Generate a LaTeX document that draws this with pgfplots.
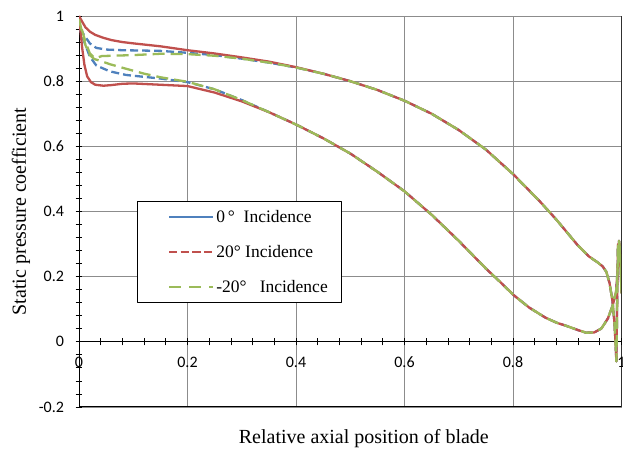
\documentclass[border=0pt]{standalone}
\usepackage{fontspec}
\setmainfont{Liberation Serif}
\newfontfamily\tickfont{Carlito}
\usepackage{pgfplots}
\pgfplotsset{compat=1.18}
\definecolor{cblue}{HTML}{4F81BD}
\definecolor{cred}{HTML}{C0504D}
\definecolor{cgreen}{HTML}{9BBB59}
\begin{document}
\begin{tikzpicture}
\begin{axis}[
  at={(79bp,59bp)}, anchor=south west,
  scale only axis, width=542.5bp, height=391bp,
  xmin=0, xmax=1, ymin=-0.2, ymax=1,
  axis x line=middle, axis y line=left,
  axis line style={-, black, line width=1bp},
  hide obscured x ticks=false, hide obscured y ticks=false,
  xtick={0,0.2,0.4,0.6,0.8,1}, ytick={-0.2,0,0.2,0.4,0.6,0.8,1},
  minor tick num=4,
  tick align=center, major tick length=7bp, minor tick length=7bp,
  tick style={black, line width=0.8bp},
  grid=major, major grid style={black!45, line width=0.8bp},
  /pgf/number format/assume math mode=true,
  ticklabel style={font=\tickfont\fontsize{16bp}{19bp}\selectfont},
  xticklabel style={anchor=north, yshift=-8bp},
  yticklabel style={anchor=east, xshift=-8bp},
  xlabel={Relative axial position of blade},
  ylabel={Static pressure coefficient},
  label style={font=\fontsize{20bp}{24bp}\selectfont},
  xlabel style={at={(axis description cs:0.525,-0.0945)}, anchor=base},
  ylabel style={at={(axis description cs:-0.1069,0.5)}, anchor=center},
  legend image code/.code={\path (-18bp,0bp); \draw[#1] (0bp,0bp) -- (44bp,0bp);},
  legend style={at={(0.1075,0.527)}, anchor=north west, draw=black,
    line width=1bp, inner xsep=12bp, inner ysep=6.5bp, row sep=17.5bp,
    font=\fontsize{17.5bp}{21bp}\selectfont, cells={anchor=west}},
  line join=round,
]
% 0 deg incidence: suction side from LE to TE, then pressure side back to LE
\addplot[forget plot, cblue, line width=2.3bp, dash pattern=on 8bp off 4bp] coordinates {
 (0,0.97) (0.005,0.94) (0.011,0.915) (0.02,0.875) (0.032,0.848) (0.057,0.830)
 (0.087,0.819) (0.15,0.808) (0.20,0.797) (0.25,0.775) (0.30,0.742)
 (0.35,0.705) (0.40,0.667) (0.45,0.625) (0.50,0.578) (0.55,0.522) (0.60,0.462)
 (0.65,0.390) (0.70,0.310) (0.75,0.225) (0.78,0.178) (0.80,0.145) (0.83,0.105)
 (0.86,0.074) (0.88,0.059) (0.90,0.048) (0.92,0.036) (0.935,0.028) (0.950,0.029)
 (0.963,0.041) (0.975,0.072) (0.984,0.113) (0.990,0.154) (0.993,0.22)
 (0.9955,0.31) (0.998,0.27) (1.0,0.15)
 (0.998,0.25) (0.996,0.30) (0.9935,0.30) (0.9925,0.20) (0.9915,0.05)
 (0.9905,-0.06) (0.9895,-0.02) (0.987,0.06) (0.983,0.13) (0.978,0.18)
 (0.972,0.215) (0.965,0.232) (0.955,0.245) (0.94,0.262) (0.92,0.295)
 (0.90,0.335) (0.88,0.375) (0.85,0.430) (0.80,0.515) (0.75,0.590) (0.70,0.650)
 (0.65,0.700) (0.60,0.740) (0.55,0.773) (0.50,0.800) (0.45,0.823) (0.40,0.842)
 (0.35,0.857) (0.30,0.869) (0.25,0.880) (0.20,0.887) (0.15,0.893) (0.08,0.895)
 (0.05,0.897) (0.032,0.902) (0.02,0.916) (0.008,0.945) (0,0.97)
};
% +20 deg incidence
\addplot[forget plot, cred, line width=2.3bp] coordinates {
 (0,1.0) (0.003,0.95) (0.006,0.90) (0.010,0.85) (0.015,0.815) (0.022,0.797)
 (0.03,0.789) (0.045,0.786) (0.06,0.788) (0.08,0.792) (0.10,0.793) (0.15,0.789)
 (0.20,0.785) (0.25,0.765) (0.30,0.738)
 (0.35,0.705) (0.40,0.667) (0.45,0.625) (0.50,0.578) (0.55,0.522) (0.60,0.462)
 (0.65,0.390) (0.70,0.310) (0.75,0.225) (0.78,0.178) (0.80,0.145) (0.83,0.105)
 (0.86,0.074) (0.88,0.059) (0.90,0.048) (0.92,0.036) (0.935,0.028) (0.950,0.029)
 (0.963,0.041) (0.975,0.072) (0.984,0.113) (0.990,0.154) (0.993,0.22)
 (0.9955,0.31) (0.998,0.27) (1.0,0.15)
 (0.998,0.25) (0.996,0.30) (0.9935,0.30) (0.9925,0.20) (0.9915,0.05)
 (0.9905,-0.06) (0.9895,-0.02) (0.987,0.06) (0.983,0.13) (0.978,0.18)
 (0.972,0.215) (0.965,0.232) (0.955,0.245) (0.94,0.262) (0.92,0.295)
 (0.90,0.335) (0.88,0.375) (0.85,0.430) (0.80,0.515) (0.75,0.590) (0.70,0.650)
 (0.65,0.700) (0.60,0.740) (0.55,0.773) (0.50,0.800) (0.45,0.823) (0.40,0.843)
 (0.35,0.860) (0.30,0.873) (0.25,0.885) (0.20,0.895) (0.15,0.907) (0.10,0.916)
 (0.08,0.920) (0.06,0.926) (0.045,0.933) (0.03,0.942) (0.02,0.952)
 (0.012,0.965) (0.005,0.985) (0,1.0)
};
% -20 deg incidence
\addplot[forget plot, cgreen, line width=2.3bp, dash pattern=on 12bp off 6bp] coordinates {
 (0,0.99) (0.005,0.955) (0.012,0.91) (0.02,0.88) (0.028,0.868) (0.04,0.862)
 (0.057,0.852) (0.087,0.838) (0.12,0.823) (0.15,0.812) (0.20,0.798)
 (0.25,0.775) (0.30,0.742)
 (0.35,0.705) (0.40,0.667) (0.45,0.625) (0.50,0.578) (0.55,0.522) (0.60,0.462)
 (0.65,0.390) (0.70,0.310) (0.75,0.225) (0.78,0.178) (0.80,0.145) (0.83,0.105)
 (0.86,0.074) (0.88,0.059) (0.90,0.048) (0.92,0.036) (0.935,0.028) (0.950,0.029)
 (0.963,0.041) (0.975,0.072) (0.984,0.113) (0.990,0.154) (0.993,0.22)
 (0.9955,0.31) (0.998,0.27) (1.0,0.15)
 (0.998,0.25) (0.996,0.30) (0.9935,0.30) (0.9925,0.20) (0.9915,0.05)
 (0.9905,-0.06) (0.9895,-0.02) (0.987,0.06) (0.983,0.13) (0.978,0.18)
 (0.972,0.215) (0.965,0.232) (0.955,0.245) (0.94,0.262) (0.92,0.295)
 (0.90,0.335) (0.88,0.375) (0.85,0.430) (0.80,0.515) (0.75,0.590) (0.70,0.650)
 (0.65,0.700) (0.60,0.740) (0.55,0.773) (0.50,0.800) (0.45,0.823) (0.40,0.842)
 (0.35,0.857) (0.30,0.869) (0.25,0.878) (0.20,0.883) (0.15,0.884) (0.10,0.880)
 (0.06,0.878) (0.042,0.877) (0.035,0.873) (0.028,0.872) (0.02,0.885)
 (0.012,0.92) (0.005,0.96) (0,0.99)
};
% closing frame on the bottom and right
\draw[black, line width=1bp] (axis cs:0,-0.2) -- (axis cs:1,-0.2) -- (axis cs:1,1);
\addlegendimage{cblue, solid, line width=2.5bp}
\addlegendentry{0\,°\ \ Incidence}
\addlegendimage{cred, line width=2.5bp, dash pattern=on 8.3bp off 3.3bp}
\addlegendentry{20° Incidence}
\addlegendimage{cgreen, line width=2.5bp, dash pattern=on 12bp off 8bp}
\addlegendentry{-20°\ \ \ Incidence}
\end{axis}
\pgfresetboundingbox
\path[use as bounding box] (0bp,0bp) rectangle (623bp,466bp);
\end{tikzpicture}
\end{document}
